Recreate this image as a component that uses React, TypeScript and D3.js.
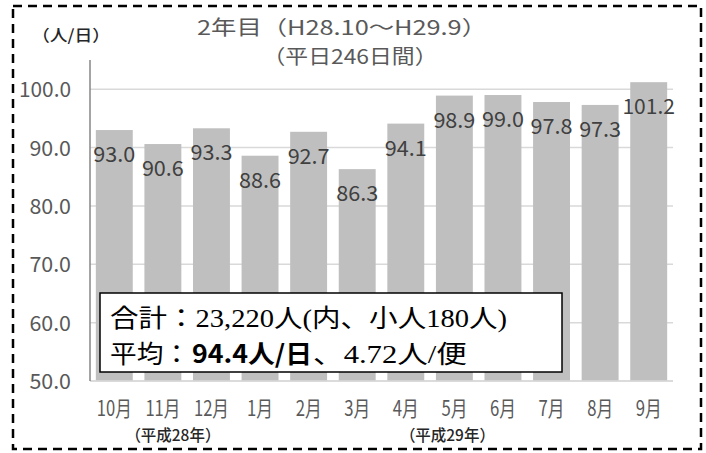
import React from 'react';
import * as d3 from 'd3';

const months = ['10月', '11月', '12月', '1月', '2月', '3月', '4月', '5月', '6月', '7月', '8月', '9月'];
const values = [93.0, 90.6, 93.3, 88.6, 92.7, 86.3, 94.1, 98.9, 99.0, 97.8, 97.3, 101.2];
const yTicks = [50, 60, 70, 80, 90, 100];
const titleLines = ['2年目（H28.10～H29.9）', '（平日246日間）'];
const unitLabel = '（人/日）';
const eraLabels = ['（平成28年）', '（平成29年）'];
const eraAnchors = ['11月', '5月'];
const boxLine1 = '合計：23,220人(内、小人180人)';
const boxLine2a = '平均：';
const boxLine2b = '94.4人/日';
const boxLine2c = '、4.72人/便';

const W = 706;
const H = 453;
const GOTHIC = '"Noto Sans CJK JP", "DejaVu Sans", sans-serif';
const MINCHO = '"Liberation Serif", "Noto Sans CJK JP", serif';

export default function App() {
  const left = 90;
  const right = 673;
  const top = 60;
  const bottom = 381;
  const x = d3.scaleBand<string>().domain(months).range([left, right]).paddingInner(0.24).paddingOuter(0.12);
  const y = d3.scaleLinear().domain([50, 105]).range([bottom, top]);
  const bw = x.bandwidth();
  const fmt = d3.format('.1f');
  const halfLen = (s: string, fs: number) => s.length * fs * 0.5;

  return (
    <svg width={W} height={H} style={{ position: 'absolute', left: 0, top: 0, background: '#fff' }}>
      <rect x={0} y={0} width={W} height={H} fill="#fff" />
      {/* gridlines */}
      {yTicks.map((t) => (
        <line key={t} x1={left} x2={right} y1={y(t)} y2={y(t)} stroke="#d9d9d9" strokeWidth={1.5} />
      ))}
      {/* bars */}
      {values.map((v, i) => (
        <rect key={i} x={x(months[i])!} y={y(v)} width={bw} height={y(50) - y(v)} fill="#bfbfbf" />
      ))}
      {/* bottom axis line */}
      <line x1={left} x2={right} y1={bottom} y2={bottom} stroke="#d9d9d9" strokeWidth={1.5} />
      {/* y axis line */}
      <line x1={left} x2={left} y1={top} y2={bottom} stroke="#868686" strokeWidth={1.5} />
      {/* bar labels */}
      {values.map((v, i) => {
        const s = fmt(v);
        return (
          <text
            key={i}
            x={x(months[i])! + bw / 2}
            y={y(v) + 32}
            textAnchor="middle"
            fontFamily={GOTHIC}
            fontSize={21}
            fill="#404040"
            textLength={halfLen(s, 21)}
            lengthAdjust="spacingAndGlyphs"
          >
            {s}
          </text>
        );
      })}
      {/* y tick labels */}
      {yTicks.map((t) => {
        const s = fmt(t);
        return (
          <text
            key={t}
            x={71}
            y={y(t) + 8}
            textAnchor="end"
            fontFamily={GOTHIC}
            fontSize={21}
            fill="#595959"
            textLength={s.length * 10.4}
            lengthAdjust="spacingAndGlyphs"
          >
            {s}
          </text>
        );
      })}
      {/* x labels */}
      {months.map((m) => (
        <text
          key={m}
          x={x(m)! + bw / 2}
          y={416}
          textAnchor="middle"
          fontFamily={GOTHIC}
          fontSize={21}
          fill="#595959"
          textLength={(m.length - 1) * 9 + 17}
          lengthAdjust="spacingAndGlyphs"
        >
          {m}
        </text>
      ))}
      {/* era labels */}
      {eraLabels.map((e, i) => (
        <text
          key={e}
          x={x(eraAnchors[i])! + bw / 2 + (i === 0 ? 10 : -7)}
          y={441}
          textAnchor="middle"
          fontFamily={GOTHIC}
          fontSize={16}
          fontWeight={500}
          fill="#262626"
          textLength={95}
          lengthAdjust="spacingAndGlyphs"
        >
          {e}
        </text>
      ))}
      {/* title */}
      <text x={342} y={35} textAnchor="middle" fontFamily={GOTHIC} fontSize={20} fill="#595959" textLength={290} lengthAdjust="spacingAndGlyphs">
        {titleLines[0]}
      </text>
      <text x={350} y={64} textAnchor="middle" fontFamily={GOTHIC} fontSize={20} fill="#595959" textLength={175} lengthAdjust="spacingAndGlyphs">
        {titleLines[1]}
      </text>
      <text x={71} y={41} textAnchor="middle" fontFamily={GOTHIC} fontSize={16} fontWeight={500} fill="#262626" textLength={78} lengthAdjust="spacingAndGlyphs">
        {unitLabel}
      </text>
      {/* summary box */}
      <rect x={100} y={293} width={462} height={79} fill="#fff" stroke="#000" strokeWidth={1.5} />
      <text x={110} y={327} fontFamily={MINCHO} fontSize={25} fill="#000" textLength={397} lengthAdjust="spacingAndGlyphs">
        {boxLine1}
      </text>
      <text x={110} y={363} fontFamily={MINCHO} fontSize={25} fill="#000" textLength={80} lengthAdjust="spacingAndGlyphs">
        {boxLine2a}
      </text>
      <text x={192} y={363} fontFamily={GOTHIC} fontWeight={700} fontSize={25} fill="#000" textLength={120} lengthAdjust="spacingAndGlyphs">
        {boxLine2b}
      </text>
      <text x={313} y={363} fontFamily={MINCHO} fontSize={25} fill="#000" textLength={154} lengthAdjust="spacingAndGlyphs">
        {boxLine2c}
      </text>
      {/* dashed frame */}
      <rect x={13} y={6} width={688} height={443} fill="none" stroke="#000" strokeWidth={2.5} strokeDasharray="9 6" />
    </svg>
  );
}
